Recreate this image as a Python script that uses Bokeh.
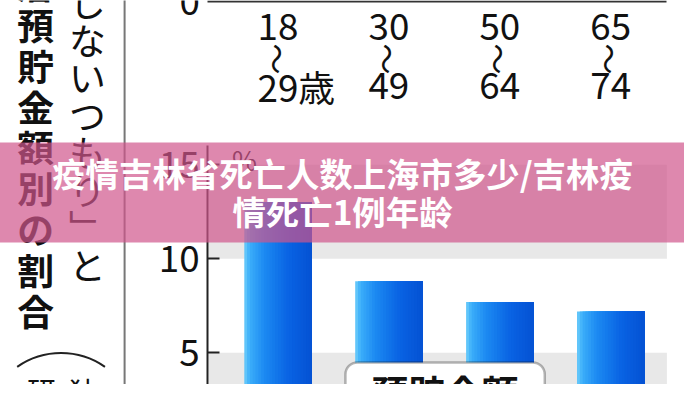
import numpy as np
from bokeh.plotting import figure
from bokeh.models import Range1d, LinearAxis, FixedTicker, BoxAnnotation
from bokeh.core.properties import value
from bokeh.embed import file_html
from bokeh.resources import INLINE

# ---------------- data ----------------
age_from = ["18", "30", "50", "65"]
age_to = ["29", "49", "64", "74"]
age_unit = "歳"
range_mark = "〜"
shares = [13.0, 8.8, 7.7, 7.2]          # % (lower chart)
y_ticks = [5, 10, 15]
upper_ticks = ["0"]
unit_label = "%"
col_right = "しないつもり﹂と"
col_left = "層預貯金額別の割合"
note_chars = ["研", "独"]
badge_text = "預貯金額"
title_lines = ["疫情吉林省死亡人数上海市多少/吉林疫", "情死亡1例年龄"]

# ---------------- layout helpers (reference pixel -> data) ----------------
W, H = 684, 384
SX, SY = W / 700, H / 400
FS = (SX + SY) / 2
def xr(px): return (px - 284.0) / 113.5
def yr(py): return (465.0 - py) / 19.6
def yu(py): return (1.0 - py) / 19.6
def fs(px): return f"{px * FS:.1f}px"

JPN = "Noto Sans CJK JP"
JP = value(JPN)

p = figure(width=W, height=H, output_backend="svg", toolbar_location=None,
           x_range=Range1d(xr(0), xr(700)), y_range=Range1d(yr(400), yr(0)),
           x_axis_location=None, y_axis_location=None, min_border=0)
p.extra_y_ranges = {"up": Range1d(yu(400), yu(0))}
p.grid.visible = False
p.outline_line_color = None
p.background_fill_color = "white"

# gray bands 0-5, 10-15
edges = [0] + y_ticks
p.quad(left=xr(213), right=xr(682), bottom=edges[0::2][:2], top=edges[1::2][:2],
       fill_color="#e8e8e8", line_color=None)

# gradient bars: overlapping strips, each running to the bar's right edge
idx = np.arange(len(shares))
bw = 69 / 113.5
n = 24
st = [0, 0.08, 0.3, 0.65, 1.0]
sc = np.array([(110, 205, 250), (60, 175, 250), (28, 138, 242), (10, 100, 228), (5, 82, 212)])
for i in range(n):
    t = (i + 0.5) / n
    c = tuple(int(np.interp(t, st, sc[:, k])) for k in range(3))
    col = "#%02x%02x%02x" % c
    lefts = idx - bw / 2 + i * bw / n
    p.quad(left=lefts, right=idx + bw / 2, bottom=0, top=shares,
           fill_color=col, line_color=None)

# lower y axis
ax = LinearAxis(fixed_location=xr(212), bounds=(0, 16), ticker=FixedTicker(ticks=y_ticks),
                axis_line_color="#222", axis_line_width=2,
                major_tick_in=int(13 * SX), major_tick_out=0, major_tick_line_width=2,
                major_tick_line_color="#222", minor_tick_line_color=None,
                major_label_standoff=8, major_label_text_font=JPN,
                major_label_text_font_size=fs(38), major_label_text_color="#111")
p.add_layout(ax, "left")
p.text(x=[xr(237)], y=[yr(166)], text=[unit_label], text_font=JP, text_font_size=fs(28),
       text_color="#111", text_align="left", text_baseline="middle")

# upper chart: its x axis line and the "0" of its y axis
ax3 = LinearAxis(y_range_name="up", fixed_location=0, bounds=(xr(212), xr(682)),
                 ticker=FixedTicker(ticks=[]), axis_line_color="#333", axis_line_width=2,
                 major_tick_line_color=None, minor_tick_line_color=None,
                 major_label_text_alpha=0)
p.add_layout(ax3, "below")
p.text(x=[xr(204)], y=[0], text=upper_ticks, y_range_name="up", text_font=JP,
       text_font_size=fs(38), text_color="#111", text_align="right", text_baseline="middle")

# category labels of upper chart
p.text(x=idx, y=[yu(27)] * 4, text=age_from, y_range_name="up", text_font=JP,
       text_font_size=fs(38), text_color="#111", text_align="center", text_baseline="middle")
p.text(x=idx, y=[yu(61)] * 4, text=[range_mark] * 4, y_range_name="up", angle=-np.pi / 2,
       text_font=JP, text_font_size=fs(32), text_color="#111",
       text_align="center", text_baseline="middle")
p.text(x=idx, y=[yu(89)] * 4, text=[age_to[0] + age_unit] + age_to[1:], y_range_name="up",
       text_font=JP, text_font_size=fs(38), text_color="#111", text_align="left",
       text_baseline="middle", x_offset=-21 * SX)

# left vertical caption
p.segment(x0=xr(127), x1=xr(127), y0=yr(-2), y1=yr(402), line_color="#777", line_width=2)
p.text(x=[xr(36)] * len(col_left), y=[yr(-18 + 42.5 * i) for i in range(len(col_left))],
       text=list(col_left), text_font=JP, text_font_style="bold", text_font_size=fs(38),
       text_color="#111", text_align="center", text_baseline="middle")
p.text(x=[xr(89)] * len(col_right), y=[yr(1 + 39 * i) for i in range(len(col_right))],
       text=list(col_right), text_font=JP, text_font_size=fs(38),
       text_color="#111", text_align="center", text_baseline="middle")
p.arc(x=[xr(62)], y=[yr(447)], radius=79 * FS, radius_units="screen",
      start_angle=np.deg2rad(55), end_angle=np.deg2rad(125), line_color="#222", line_width=2)
p.text(x=[xr(42), xr(85)], y=[yr(407)] * 2, text=note_chars, text_font=JP,
       text_font_size=fs(30), text_color="#111", text_align="center", text_baseline="middle")

# badge
p.add_layout(BoxAnnotation(left=xr(353), right=xr(557), top=yr(377), bottom=yr(470),
                           fill_color="white", fill_alpha=1, line_color="#111", line_width=2.5,
                           border_radius=12))
p.text(x=[xr(455)], y=[yr(407)], text=[badge_text], text_font=JP, text_font_style="bold",
       text_font_size=fs(38), text_color="#111", text_align="center", text_baseline="middle",
       level="overlay")

# pink banner with title
p.quad(left=xr(-2), right=xr(702), bottom=yr(252), top=yr(148),
       fill_color=(208, 86, 140), fill_alpha=0.7, line_color=None, level="overlay")
p.text(x=[xr(350)] * 2, y=[yr(179), yr(219)], text=title_lines,
       text_font=value("Noto Sans CJK SC"), text_font_style="bold", text_font_size=fs(34.5),
       text_color="white", text_align="center", text_baseline="middle", level="overlay")

open("out.html", "w").write(file_html(p, INLINE))
